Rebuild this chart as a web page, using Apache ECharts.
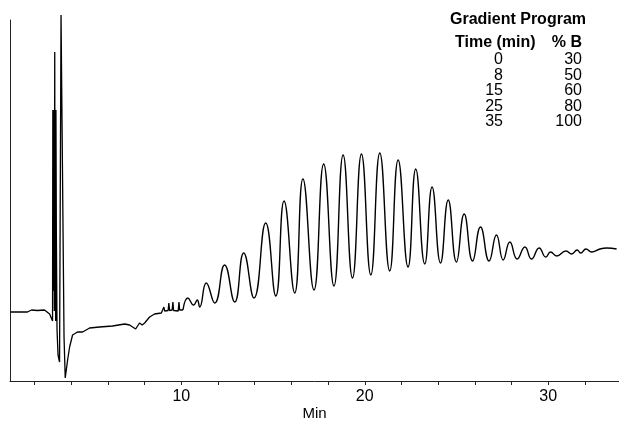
<!DOCTYPE html>
<html>
<head>
<meta charset="utf-8">
<script src="https://cdn.jsdelivr.net/npm/echarts@6/dist/echarts.min.js"></script>
<style>
  html, body { margin: 0; padding: 0; background: #fff; }
  #chart { width: 619px; height: 421px; }
</style>
</head>
<body>
<div id="chart"></div>
<script>
// detector trace before ~10 min (sharp injection spikes, drawn without smoothing)
const earlyTime = [
  0.69, 1.61, 1.83, 2.16, 2.54, 2.82, 2.979, 2.995, 3.011, 3.028, 3.044, 3.06, 3.077,
  3.099, 3.115, 3.131, 3.148, 3.164, 3.186, 3.224, 3.279, 3.361, 3.442, 3.524, 3.606,
  3.671, 3.8, 3.91, 4.07, 4.34, 4.62, 5.0, 5.54, 6.25, 6.91, 7.18, 7.51, 7.72, 7.87,
  8.0, 8.27, 8.54, 8.91, 9.01, 9.05, 9.09, 9.28, 9.32, 9.36, 9.5, 9.54, 9.58, 9.83,
  9.87, 9.91, 10.09
]
const earlySignal = [
  69, 69, 71, 70.5, 71, 67, 60, 271, 90, 271, 110, 271, 70,
  329, 100, 271, 60, 271, 150, 51, 26, 19, 366, 366, 44,
  3, 21, 34, 46, 49, 49, 53, 54, 55, 57, 56, 52, 58, 56,
  58, 64, 67, 68, 70, 74, 70, 70.5, 78, 70.5, 71, 79, 70.5, 70,
  79, 71, 71
]

// oligomer ladder after ~10 min (apex / valley readings)
const ladderTime = [
  10.09, 10.36, 10.67, 10.87, 11.0, 11.36, 11.82, 12.36, 12.91, 13.4, 13.96, 14.6,
  15.15, 15.6, 16.18, 16.63, 17.23, 17.76, 18.32, 18.82, 19.33, 19.82, 20.33, 20.82,
  21.36, 21.82, 22.36, 22.78, 23.27, 23.67, 24.13, 24.55, 25.0, 25.42, 25.88, 26.31,
  26.78, 27.18, 27.55, 27.91, 28.31, 28.73, 29.09, 29.51, 29.87, 30.13, 30.46, 30.97,
  31.28, 31.58, 31.77, 32.06, 32.37, 32.82, 33.19, 33.73
]
const ladderSignal = [
  71, 83, 76, 81, 74, 98, 78, 116, 79, 128, 83, 158,
  85, 180, 88, 202, 91, 217, 95, 226, 103, 227, 106, 228,
  110, 221, 114, 212, 117, 194, 118, 181, 119, 167, 120, 154,
  120, 146, 121, 139, 122, 134, 122, 133, 124, 129, 125, 130,
  127, 131, 128, 132, 129, 132, 133, 132
]

const tickValues = [2, 4, 6, 8, 10, 12, 14, 16, 18, 20, 22, 24, 26, 28, 30, 32]
const labelValues = [10, 20, 30]

const gradientTime = [0, 8, 15, 25, 35]
const gradientB = [30, 50, 60, 80, 100]

const font = 'Liberation Sans, Arial, sans-serif'

const chart = echarts.init(document.getElementById('chart'))

const tableText = [
  { type: 'text', x: 518, y: 20, style: { text: 'Gradient Program', font: 'bold 16px ' + font, align: 'center', verticalAlign: 'middle', fill: '#000' } },
  { type: 'text', x: 455, y: 43, style: { text: 'Time (min)', font: 'bold 16px ' + font, align: 'left', verticalAlign: 'middle', fill: '#000' } },
  { type: 'text', x: 582, y: 43, style: { text: '% B', font: 'bold 16px ' + font, align: 'right', verticalAlign: 'middle', fill: '#000' } },
]
gradientTime.forEach((t, i) => {
  const y = 60 + i * 15.4
  tableText.push({ type: 'text', x: 503, y, style: { text: String(t), font: '16px ' + font, align: 'right', verticalAlign: 'middle', fill: '#000' } })
  tableText.push({ type: 'text', x: 582, y, style: { text: String(gradientB[i]), font: '16px ' + font, align: 'right', verticalAlign: 'middle', fill: '#000' } })
})

const option = {
  backgroundColor: '#fff',
  animation: false,
  grid: { left: 10, right: 0, top: 20, bottom: 40, outerBoundsMode: 'none', containLabel: false },
  xAxis: {
    type: 'value',
    min: 0.66,
    max: 33.86,
    name: 'Min',
    nameLocation: 'middle',
    nameGap: 25,
    nameMoveOverlap: false,
    nameTextStyle: { color: '#000', fontSize: 15, fontFamily: font },
    axisLine: { show: true, lineStyle: { color: '#222', width: 1 } },
    axisTick: { show: true, length: 4, customValues: tickValues, lineStyle: { color: '#222' } },
    axisLabel: { customValues: labelValues, color: '#000', fontSize: 16, fontFamily: font, margin: 8 },
    splitLine: { show: false },
  },
  yAxis: {
    type: 'value',
    min: 0,
    max: 361,
    axisLine: { show: true, lineStyle: { color: '#222', width: 1 } },
    axisTick: { show: false },
    axisLabel: { show: false },
    splitLine: { show: false },
  },
  series: [
    {
      type: 'line',
      data: earlyTime.map((t, i) => [t, earlySignal[i]]),
      showSymbol: false,
      clip: false,
      lineStyle: { color: '#000', width: 1.3 },
    },
    {
      type: 'line',
      data: ladderTime.map((t, i) => [t, ladderSignal[i]]),
      showSymbol: false,
      smooth: 0.5,
      lineStyle: { color: '#000', width: 1.4 },
    },
  ],
  graphic: tableText,
}

chart.setOption(option)
</script>
</body>
</html>
